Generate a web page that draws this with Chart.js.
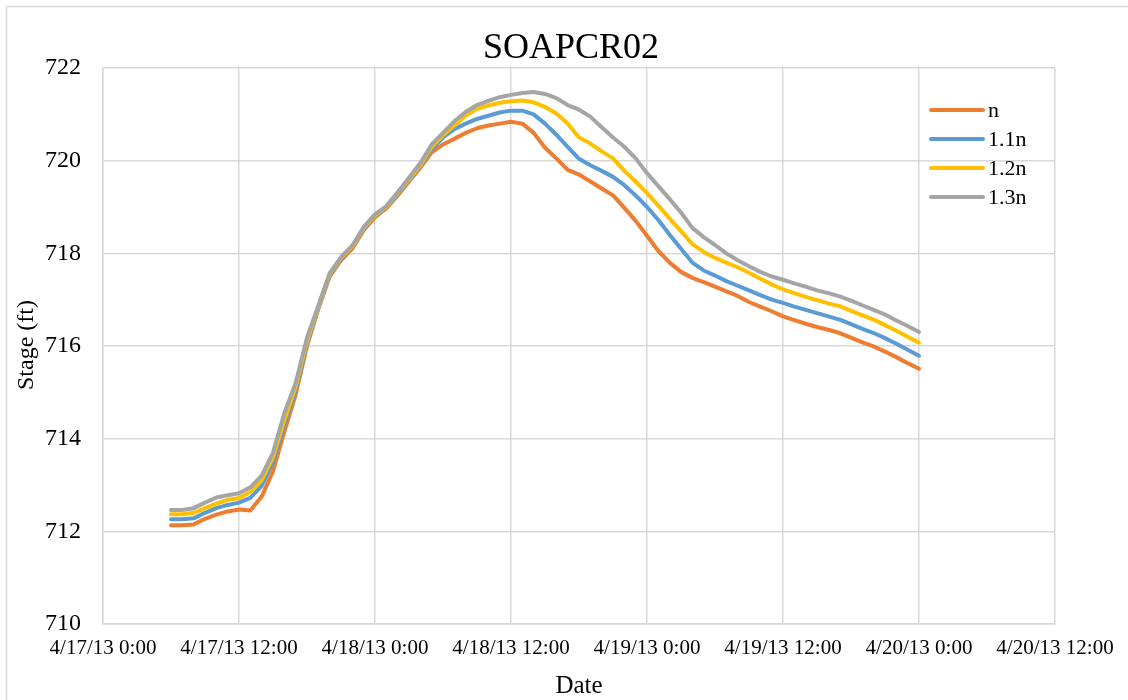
<!DOCTYPE html>
<html>
<head>
<meta charset="utf-8">
<script src="https://cdn.jsdelivr.net/npm/chart.js@4/dist/chart.umd.min.js"></script>
<style>
  html, body { margin: 0; padding: 0; background: #fff; }
  #wrap { position: relative; width: 1128px; height: 700px; }
</style>
</head>
<body>
<div id="wrap"><canvas id="c" width="1128" height="700"></canvas></div>
<script>
// Hours since 4/17/13 0:00
const hours = [6,7,8,9,10,11,12,13,14,15,16,17,18,19,20,21,22,23,24,25,26,27,28,29,30,31,32,33,34,35,36,37,38,39,40,41,42,43,44,45,46,47,48,49,50,51,52,53,54,55,56,57,58,59,60,61,62,63,64,65,66,67,68,69,70,71,72];

const stageN = [712.13,712.13,712.15,712.27,712.36,712.43,712.47,712.45,712.75,713.3,714.15,714.95,716.0,716.8,717.5,717.85,718.1,718.5,718.78,718.97,719.25,719.55,719.85,720.18,720.35,720.47,720.6,720.7,720.76,720.8,720.84,720.8,720.6,720.28,720.05,719.8,719.7,719.55,719.4,719.25,718.98,718.7,718.38,718.05,717.8,717.6,717.47,717.38,717.28,717.18,717.08,716.95,716.85,716.75,716.64,716.56,716.48,716.41,716.35,716.28,716.18,716.08,715.99,715.88,715.76,715.63,715.51];

const stage11n = [712.26,712.26,712.28,712.4,712.5,712.57,712.62,712.72,712.98,713.5,714.3,715.05,716.05,716.83,717.53,717.88,718.13,718.53,718.8,718.99,719.28,719.58,719.88,720.25,720.5,720.68,720.8,720.9,720.97,721.04,721.08,721.08,721.0,720.8,720.56,720.3,720.04,719.9,719.78,719.65,719.47,719.25,719.0,718.72,718.4,718.1,717.8,717.63,717.52,717.4,717.3,717.2,717.1,717.0,716.93,716.85,716.78,716.71,716.64,716.57,716.47,716.37,716.28,716.17,716.05,715.92,715.79];

const stage12n = [712.37,712.37,712.4,712.5,712.6,712.68,712.72,712.85,713.1,713.6,714.4,715.12,716.1,716.85,717.55,717.9,718.15,718.55,718.82,719.0,719.3,719.6,719.9,720.3,720.55,720.76,720.97,721.12,721.19,721.25,721.28,721.3,721.26,721.16,721.02,720.8,720.5,720.37,720.2,720.05,719.78,719.55,719.3,719.03,718.75,718.48,718.2,718.03,717.9,717.8,717.7,717.58,717.45,717.33,717.22,717.14,717.06,716.99,716.92,716.86,716.76,716.66,716.57,716.45,716.33,716.2,716.07];

const stage13n = [712.46,712.46,712.5,712.62,712.73,712.78,712.82,712.95,713.2,713.7,714.55,715.2,716.18,716.87,717.57,717.92,718.17,718.57,718.84,719.02,719.32,719.63,719.95,720.35,720.6,720.85,721.05,721.2,721.29,721.37,721.42,721.46,721.48,721.44,721.35,721.2,721.1,720.95,720.72,720.5,720.3,720.05,719.73,719.45,719.17,718.88,718.55,718.35,718.18,718.0,717.85,717.72,717.6,717.5,717.43,717.35,717.28,717.2,717.14,717.07,716.98,716.88,716.78,716.68,716.55,716.43,716.3];

const xTickLabels = ['4/17/13 0:00','4/17/13 12:00','4/18/13 0:00','4/18/13 12:00','4/19/13 0:00','4/19/13 12:00','4/20/13 0:00','4/20/13 12:00'];
const seriesNames = ['n','1.1n','1.2n','1.3n'];
const seriesColors = ['#ED7D31','#5B9BD5','#FFC000','#A5A5A5'];
const seriesValues = [stageN, stage11n, stage12n, stage13n];

const FONT = '"Liberation Serif", "Times New Roman", serif';

const datasets = seriesValues.map((vals, i) => ({
  label: seriesNames[i],
  data: hours.map((h, j) => ({ x: h, y: vals[j] })),
  borderColor: seriesColors[i],
  backgroundColor: seriesColors[i],
  borderWidth: 4,
  pointRadius: 0,
  tension: 0,
  fill: false,
  order: 3 - i,
  borderCapStyle: 'round',
  borderJoinStyle: 'round'
}));

const decor = {
  id: 'decor',
  afterDraw(chart) {
    const ctx = chart.ctx;
    ctx.save();
    // outer border
    ctx.strokeStyle = '#d9d9d9';
    ctx.lineWidth = 1.5;
    ctx.strokeRect(6.5, 6.5, 1200, 800);
    ctx.fillStyle = '#000';
    // title
    ctx.font = '36px ' + FONT;
    ctx.textAlign = 'center';
    ctx.textBaseline = 'middle';
    ctx.fillText('SOAPCR02', 571, 49);
    // x axis title
    ctx.font = '25px ' + FONT;
    ctx.fillText('Date', 579, 686);
    // y axis title
    ctx.save();
    ctx.translate(27, 345);
    ctx.rotate(-Math.PI / 2);
    ctx.font = '24px ' + FONT;
    ctx.fillText('Stage (ft)', 0, 0);
    ctx.restore();
    // legend
    ctx.font = '22px ' + FONT;
    ctx.textAlign = 'left';
    chart.data.datasets.forEach((ds, i) => {
      const y = 110 + i * 29;
      ctx.strokeStyle = ds.borderColor;
      ctx.lineWidth = 4;
      ctx.lineCap = 'round';
      ctx.beginPath();
      ctx.moveTo(931, y);
      ctx.lineTo(983, y);
      ctx.stroke();
      ctx.fillStyle = '#000';
      ctx.fillText(ds.label, 988, y + 1);
    });
    ctx.restore();
  }
};

new Chart(document.getElementById('c'), {
  type: 'line',
  data: { datasets },
  options: {
    responsive: false,
    devicePixelRatio: 1,
    animation: false,
    layout: { padding: { left: 0, top: 68, right: 73, bottom: 0 } },
    plugins: { legend: { display: false }, title: { display: false }, tooltip: { enabled: false } },
    scales: {
      x: {
        type: 'linear',
        min: 0, max: 84,
        afterFit(scale) { scale.height = 76; },
        afterBuildTicks(scale) {
          scale.ticks = xTickLabels.map((_, i) => ({ value: i * 12 }));
        },
        ticks: {
          stepSize: 12,
          autoSkip: false,
          maxRotation: 0,
          padding: 12,
          color: '#000',
          font: { family: FONT, size: 21 },
          callback: (v) => xTickLabels[Math.round(v / 12)]
        },
        grid: { color: '#d9d9d9', lineWidth: 1.5, drawTicks: false },
        border: { color: '#d9d9d9', width: 1.5 }
      },
      y: {
        min: 710, max: 722,
        afterFit(scale) { scale.width = 103; },
        ticks: {
          stepSize: 2,
          padding: 22,
          color: '#000',
          font: { family: FONT, size: 24 }
        },
        grid: { color: '#d9d9d9', lineWidth: 1.5, drawTicks: false },
        border: { color: '#d9d9d9', width: 1.5 }
      }
    }
  },
  plugins: [decor]
});
</script>
</body>
</html>
